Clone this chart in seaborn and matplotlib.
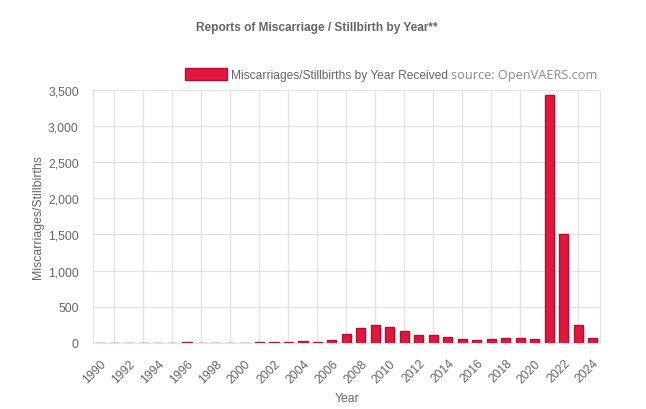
import matplotlib
matplotlib.use("Agg")
import matplotlib.pyplot as plt
import numpy as np
import pandas as pd
import seaborn as sns

# data
years = [str(y) for y in range(1990, 2025)]
reports = [0, 0, 0, 0, 0, 0, 12, 4, 4, 2,
           5, 15, 14, 18, 22, 16, 45, 125, 207, 244,
           226, 170, 111, 111, 78, 60, 46, 60, 69, 74,
           55, 3420, 1510, 249, 64]
series_label = "Miscarriages/Stillbirths by Year Received"
source_text = "source: OpenVAERS.com"
chart_title = "Reports of Miscarriage / Stillbirth by Year**"

df = pd.DataFrame({"Year": years, "Reports": reports})

sns.set_style("white")
plt.rcParams["font.family"] = ["Liberation Sans", "DejaVu Sans"]

W, H = 646, 410
fig = plt.figure(figsize=(W / 100, H / 100), dpi=100)
ax = fig.add_axes([92.7 / W, 1 - 344 / H, (600 - 92.7) / W, (344 - 90.7) / H])

grey = "#666666"
grid_c = "#e4e4e4"
fs = 8.8  # ~12px

sns.barplot(data=df, x="Year", y="Reports", ax=ax, color="#E3173E",
            edgecolor="#B0112F", linewidth=1, width=0.64, saturation=1,
            label=series_label)

ax.set_ylim(0, 3500)
ax.set_xlim(-0.5, len(years) - 0.5)
ax.set_yticks(np.arange(0, 3501, 500))
ax.set_yticklabels([f"{v:,}" for v in range(0, 3501, 500)])

# labels on even years, gridlines on odd years
even = np.arange(0, len(years), 2)
odd = np.arange(1, len(years), 2)
ax.set_xticks(even)
ax.set_xticklabels([years[i] for i in even], rotation=45, ha="right",
                   rotation_mode="anchor")
ax.set_xticks(odd, minor=True)
ax.tick_params(axis="x", which="major", length=0, pad=10, labelsize=fs, labelcolor=grey)
ax.tick_params(axis="x", which="minor", length=6, color=grid_c, width=1)
ax.tick_params(axis="y", length=6, color=grid_c, width=1, pad=4, labelsize=fs, labelcolor=grey)

ax.grid(axis="y", color=grid_c, linewidth=1)
ax.grid(axis="x", which="minor", color=grid_c, linewidth=1)
ax.set_axisbelow(True)
for s in ax.spines.values():
    s.set_visible(False)
for side in ("left", "right", "bottom"):
    ax.spines[side].set_visible(True)
    ax.spines[side].set_color(grid_c)

ax.set_xlabel("Year", fontsize=fs, color=grey)
ax.set_ylabel("Miscarriages/Stillbirths", fontsize=fs, color=grey)
ax.xaxis.set_label_coords((347 - 92.7) / (600 - 92.7), -(393 - 344) / (344 - 90.7))
ax.yaxis.set_label_coords(-(92.7 - 44) / (600 - 92.7), 0.5)

fig.text(317 / W, 1 - 28 / H, chart_title, ha="center", va="center",
         fontsize=8.6, fontweight="bold", color=grey)

leg = ax.legend(loc="center left", bbox_to_anchor=(185 / W, 1 - 75.5 / H),
                bbox_transform=fig.transFigure, frameon=False, fontsize=8.65,
                handlelength=3.5, handleheight=1.2, handletextpad=0.3,
                borderpad=0, borderaxespad=0, labelcolor=grey)
fig.text(451 / W, 1 - 75.5 / H, source_text, ha="left", va="center",
         fontsize=9.2, color="#8a8a8a", family="Open Sans")

fig.savefig("out.png", dpi=100)
